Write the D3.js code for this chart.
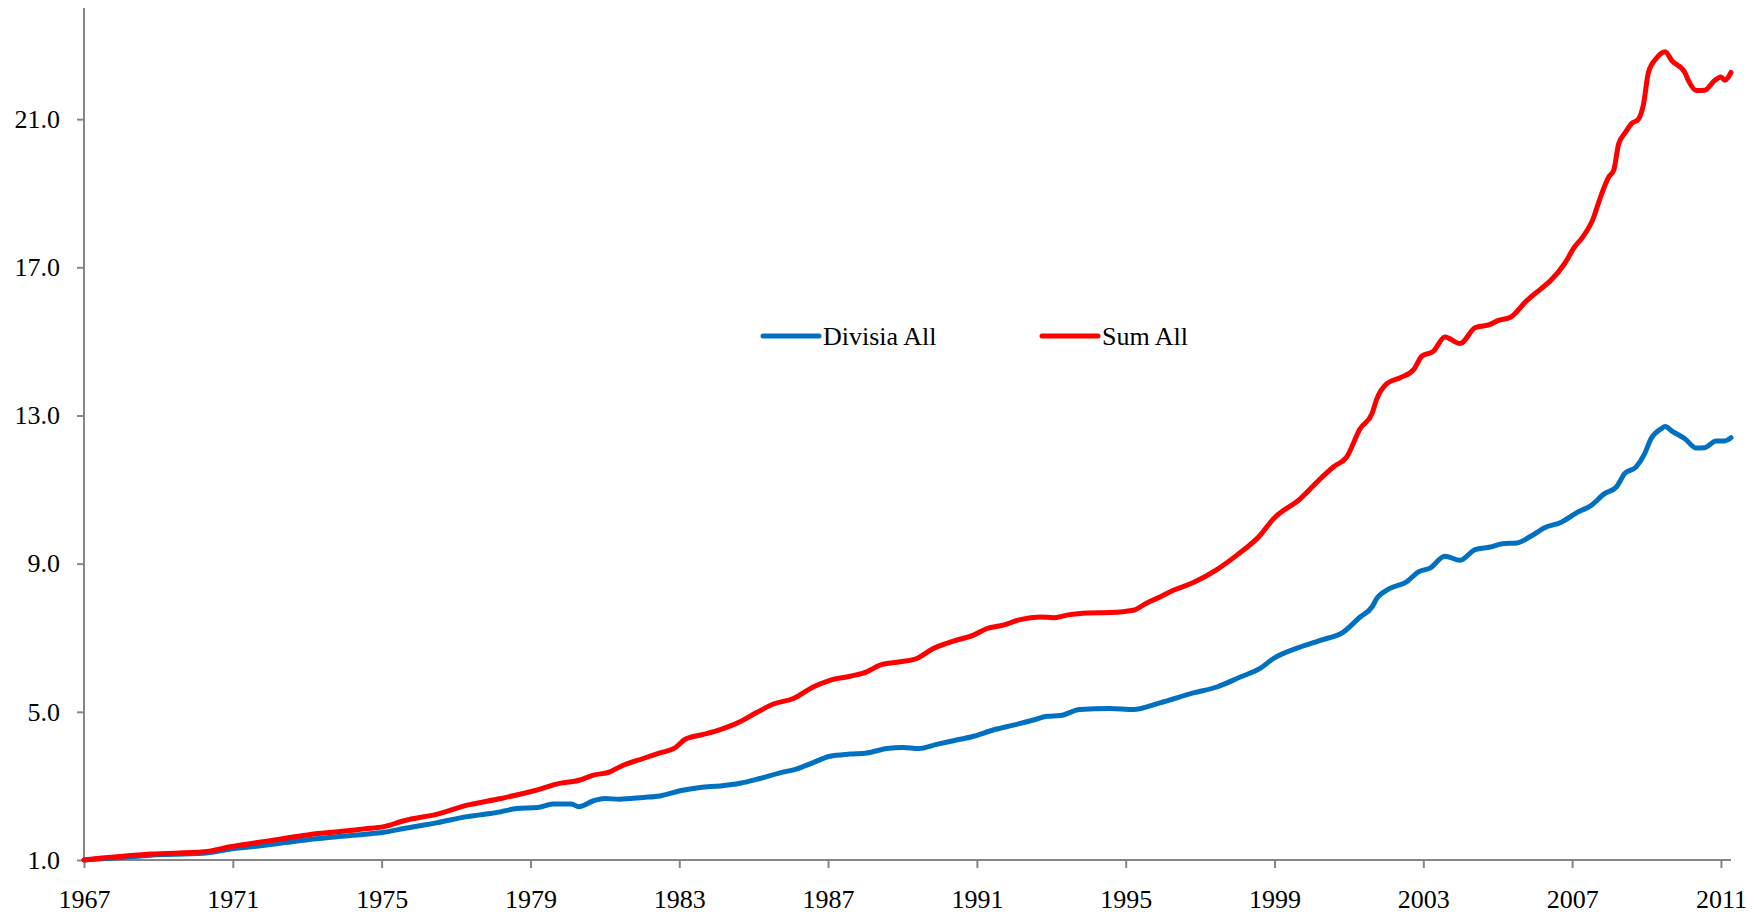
<!DOCTYPE html>
<html>
<head>
<meta charset="utf-8">
<script src="https://cdn.jsdelivr.net/npm/d3@7"></script>
<style>
    body { margin: 0; background: #fff; }
    svg text { font-family: "Liberation Serif", "Times New Roman", serif; fill: #000; }
</style>
</head>
<body>
<div id="money-chart"></div>
<script>
// Index values (decimal year, value)
const divisiaYears = [1967.0, 1968.0, 1968.8, 1970.2, 1970.9, 1971.7, 1972.4, 1973.1, 1973.8, 1974.5,
    1975.06, 1975.6, 1976.5, 1977.3, 1978.2, 1978.63, 1979.2, 1979.6, 1980.1, 1980.3,
    1980.7, 1981.0, 1981.4, 1982.03, 1982.48, 1983.02, 1983.56, 1984.1, 1984.63, 1985.17,
    1985.71, 1986.16, 1986.6, 1987.05, 1987.59, 1988.04, 1988.58, 1989.02, 1989.43, 1989.92,
    1990.37, 1990.91, 1991.44, 1991.98, 1992.52, 1992.88, 1993.24, 1993.76, 1994.58, 1995.2,
    1995.92, 1996.82, 1997.45, 1998.08, 1998.61, 1998.97, 1999.69, 2000.23, 2000.86, 2001.3,
    2001.62, 2001.75, 2002.1, 2002.55, 2002.87, 2003.18, 2003.58, 2003.99, 2004.39, 2004.8,
    2005.12, 2005.52, 2005.92, 2006.26, 2006.71, 2007.15, 2007.51, 2007.87, 2008.19, 2008.41,
    2008.72, 2008.95, 2009.12, 2009.39, 2009.5, 2009.68, 2010.03, 2010.34, 2010.56, 2010.87,
    2011.08, 2011.27];
const divisiaValues = [1.00, 1.07, 1.13, 1.18, 1.29, 1.38, 1.47, 1.56, 1.63, 1.69,
    1.75, 1.85, 2.01, 2.17, 2.30, 2.39, 2.42, 2.51, 2.51, 2.44,
    2.60, 2.66, 2.64, 2.69, 2.73, 2.87, 2.96, 3.00, 3.07, 3.20,
    3.35, 3.46, 3.63, 3.80, 3.86, 3.89, 4.01, 4.04, 4.01, 4.12,
    4.22, 4.34, 4.51, 4.64, 4.78, 4.88, 4.90, 5.06, 5.09, 5.06,
    5.24, 5.51, 5.67, 5.94, 6.17, 6.44, 6.75, 6.93, 7.16, 7.56,
    7.83, 8.06, 8.33, 8.51, 8.78, 8.88, 9.20, 9.09, 9.38, 9.45,
    9.54, 9.56, 9.76, 9.97, 10.12, 10.39, 10.57, 10.89, 11.07, 11.43,
    11.61, 11.97, 12.37, 12.64, 12.70, 12.58, 12.37, 12.12, 12.13, 12.31,
    12.31, 12.40];

const sumYears = [1967.0, 1968.79, 1970.23, 1970.94, 1971.66, 1972.38, 1973.09, 1973.81, 1974.53, 1975.06,
    1975.6, 1976.5, 1977.3, 1978.2, 1979.1, 1979.7, 1980.33, 1980.69, 1981.14, 1981.41,
    1982.03, 1982.48, 1982.89, 1983.16, 1983.65, 1984.1, 1984.63, 1985.08, 1985.53, 1986.07,
    1986.6, 1987.05, 1987.59, 1988.04, 1988.4, 1988.94, 1989.38, 1989.83, 1990.37, 1990.91,
    1991.27, 1991.71, 1992.16, 1992.7, 1993.06, 1993.42, 1993.95, 1994.58, 1995.2, 1995.57,
    1995.92, 1996.28, 1996.82, 1997.45, 1997.99, 1998.61, 1998.97, 1999.69, 2000.23, 2000.58,
    2000.94, 2001.3, 2001.62, 2001.75, 2002.02, 2002.38, 2002.74, 2002.96, 2003.27, 2003.58,
    2003.99, 2004.39, 2004.8, 2005.0, 2005.34, 2005.78, 2006.16, 2006.42, 2006.79, 2007.06,
    2007.28, 2007.56, 2007.76, 2007.98, 2008.12, 2008.25, 2008.43, 2008.6, 2008.78, 2008.92,
    2009.05, 2009.27, 2009.5, 2009.68, 2010.03, 2010.12, 2010.34, 2010.56, 2010.83, 2011.0,
    2011.1, 2011.27];
const sumValues = [1.00, 1.16, 1.22, 1.36, 1.47, 1.58, 1.69, 1.76, 1.84, 1.90,
    2.06, 2.24, 2.48, 2.66, 2.87, 3.05, 3.16, 3.29, 3.38, 3.52,
    3.74, 3.89, 4.03, 4.26, 4.39, 4.52, 4.73, 4.98, 5.21, 5.36,
    5.67, 5.85, 5.96, 6.08, 6.26, 6.35, 6.44, 6.71, 6.91, 7.07,
    7.25, 7.34, 7.49, 7.56, 7.54, 7.61, 7.67, 7.68, 7.74, 7.94,
    8.10, 8.28, 8.49, 8.84, 9.23, 9.76, 10.21, 10.75, 11.29, 11.61,
    11.88, 12.64, 13.05, 13.45, 13.86, 14.02, 14.24, 14.60, 14.73, 15.12,
    14.94, 15.37, 15.46, 15.56, 15.65, 16.10, 16.42, 16.64, 17.09, 17.54,
    17.81, 18.30, 18.89, 19.43, 19.63, 20.33, 20.64, 20.88, 21.00, 21.41,
    22.26, 22.65, 22.82, 22.58, 22.26, 22.05, 21.77, 21.78, 22.04, 22.14,
    22.05, 22.26];

// Axis ticks
const yearTicks = [1967, 1971, 1975, 1979, 1983, 1987, 1991, 1995, 1999, 2003, 2007, 2011];
const valueTicks = [1, 5, 9, 13, 17, 21];

// Series names + colours
const seriesNames = ["Divisia All", "Sum All"];
const seriesColours = ["#0070C0", "#FF0000"];

const drawChart = () => {
    const width = 1754;
    const height = 917;
    const margin = {top: 8, left: 84, right: 23, bottom: 57};
    const innerWidth = width - margin.left - margin.right;
    const innerHeight = height - margin.top - margin.bottom;
    const axisColour = "#868686";

    const svg = d3.select("#money-chart")
        .append("svg")
            .attr("width", width)
            .attr("height", height);

    const innerChart = svg
        .append("g")
            .attr("transform", `translate(${margin.left}, ${margin.top})`);

    // Scales
    const xScale = d3.scaleLinear()
        .domain([1967, 2011.27])
        .range([0, innerWidth]);
    const yScale = d3.scaleLinear()
        .domain([1, 24])
        .range([innerHeight, 0]);

    // Axes
    const leftAxis = d3.axisLeft(yScale)
        .tickValues(valueTicks)
        .tickFormat(d3.format(".1f"))
        .tickSize(7)
        .tickPadding(17);
    const bottomAxis = d3.axisBottom(xScale)
        .tickValues(yearTicks)
        .tickFormat(d3.format("d"))
        .tickSize(8)
        .tickPadding(22);

    const yAxis = innerChart
        .append("g")
            .attr("class", "axis-y")
            .call(leftAxis);
    const xAxis = innerChart
        .append("g")
            .attr("class", "axis-x")
            .attr("transform", `translate(0, ${innerHeight})`)
            .call(bottomAxis);

    // Excel-ish axis look: grey lines, no end caps on domain
    [yAxis, xAxis].forEach(axis => {
        axis.select(".domain")
            .attr("stroke", axisColour)
            .attr("stroke-width", 2);
        axis.selectAll(".tick line")
            .attr("stroke", axisColour)
            .attr("stroke-width", 2);
        axis.selectAll(".tick text")
            .style("font-size", "26px")
            .style("font-family", "'Liberation Serif', 'Times New Roman', serif")
            .attr("fill", "#000");
    });
    yAxis.select(".domain").attr("d", `M0,0V${innerHeight}`);
    xAxis.select(".domain").attr("d", `M0,0H${innerWidth}`);

    // Lines
    const series = [
        {name: seriesNames[0], colour: seriesColours[0], points: divisiaYears.map((yr, i) => [yr, divisiaValues[i]])},
        {name: seriesNames[1], colour: seriesColours[1], points: sumYears.map((yr, i) => [yr, sumValues[i]])}
    ];

    const lineGen = d3.line()
        .x(d => xScale(d[0]))
        .y(d => yScale(d[1]))
        .curve(d3.curveMonotoneX);

    innerChart.selectAll(".series")
        .data(series)
        .enter()
        .append("path")
            .attr("class", "series")
            .attr("d", d => lineGen(d.points))
            .attr("fill", "none")
            .attr("stroke", d => d.colour)
            .attr("stroke-width", 5)
            .attr("stroke-linejoin", "round")
            .attr("stroke-linecap", "round");

    // Legend (sits in the middle of the plot)
    const legendX = [763, 1042];
    const legend = svg.selectAll(".legend-item")
        .data(series)
        .enter()
        .append("g")
            .attr("class", "legend-item")
            .attr("transform", (d, i) => `translate(${legendX[i]}, 336)`);

    legend.append("line")
        .attr("x1", 0)
        .attr("x2", 56)
        .attr("stroke", d => d.colour)
        .attr("stroke-width", 5)
        .attr("stroke-linecap", "round");

    legend.append("text")
        .attr("x", 60)
        .attr("y", 9)
        .style("font-size", "26px")
        .text(d => d.name);
};

drawChart();
</script>
</body>
</html>
